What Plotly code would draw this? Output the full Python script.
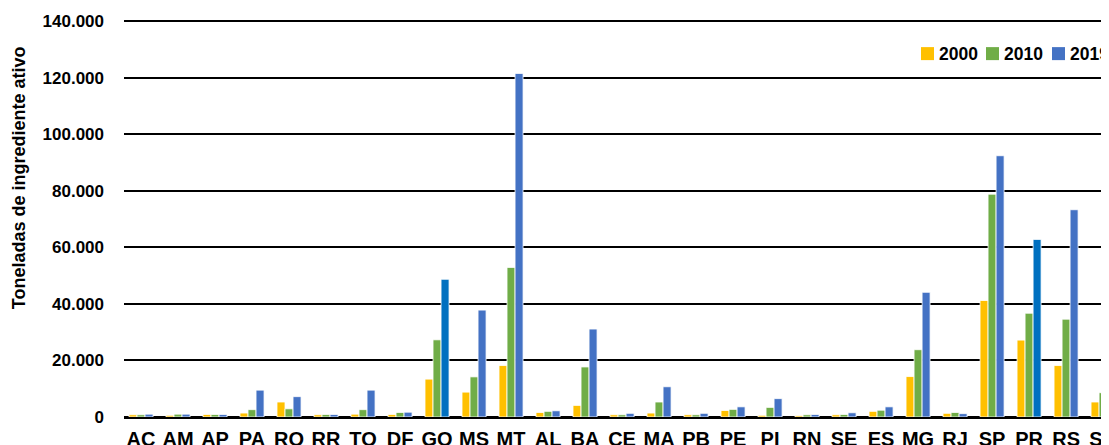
import plotly.graph_objects as go

states = ["AC", "AM", "AP", "PA", "RO", "RR", "TO", "DF", "GO", "MS", "MT", "AL", "BA", "CE",
          "MA", "PB", "PE", "PI", "RN", "SE", "ES", "MG", "RJ", "SP", "PR", "RS", "SC"]

v2000 = [800, 600, 900, 1400, 5300, 800, 1000, 900, 13400, 8800, 18200, 1600, 4100, 800,
         1400, 800, 2300, 600, 500, 800, 2000, 14300, 1300, 41200, 27200, 18200, 5300]
v2010 = [800, 1000, 900, 2600, 2900, 900, 2600, 1600, 27300, 14200, 52900, 2000, 17700, 800,
         5300, 800, 2700, 3400, 800, 900, 2400, 23800, 1600, 78800, 36700, 34600, 8600]
v2019 = [1000, 1000, 900, 9500, 7200, 900, 9500, 1700, 48700, 37800, 121500, 2200, 31100, 1300,
         10700, 1300, 3600, 6500, 900, 1500, 3600, 44100, 1200, 92400, 62800, 73300, 12500]

years = ["2000", "2010", "2019"]
col2000 = "#FFC000"
col2010 = "#70AD47"
col2019 = ["#0070C0" if s in ("GO", "PR") else "#4472C4" for s in states]
legend_cols = [col2000, col2010, "#4472C4"]

y_ticks = [0, 20000, 40000, 60000, 80000, 100000, 120000, 140000]
y_title = "Toneladas de ingrediente ativo"

FONT = "Arial, Liberation Sans, sans-serif"

# page is offset by the 8px default body margin
W, H = 1101, 437
ML, MR, MT_, MB = 116, 0, 11.9, 28.3
PLOT_W = W - ML - MR
PLOT_H = H - MT_ - MB

fig = go.Figure()
for name, vals, col in [(years[0], v2000, col2000), (years[1], v2010, col2010), (years[2], v2019, col2019)]:
    fig.add_trace(go.Bar(
        x=states, y=vals, name=name, showlegend=False,
        marker=dict(color=col, line=dict(color="white", width=0.8)),
    ))

def px_x(p):  # page x -> paper fraction
    return (p - 8 - ML) / PLOT_W

def px_y(p):  # page y -> paper fraction
    return (H - MB - (p - 8)) / PLOT_H

# Manual legend (swatch + label)
sw_left = [921, 986, 1052]
for i, (yr, c) in enumerate(zip(years, legend_cols)):
    x0 = sw_left[i]
    fig.add_shape(type="rect", xref="paper", yref="paper",
                  x0=px_x(x0), x1=px_x(x0 + 13), y0=px_y(60), y1=px_y(47),
                  fillcolor=c, line=dict(width=0))
    fig.add_annotation(xref="paper", yref="paper", x=px_x(x0 + 16), y=px_y(53.5),
                       xanchor="left", yanchor="middle", showarrow=False,
                       text="<b>%s</b>" % yr,
                       font=dict(family=FONT, size=17.5, color="black"))

# y-axis title (placed above the plot centre, as in the original)
fig.add_annotation(xref="paper", yref="paper", x=px_x(19), y=px_y(178),
                   xanchor="center", yanchor="middle", showarrow=False, textangle=-90,
                   text="<b>%s</b>" % y_title,
                   font=dict(family=FONT, size=18, color="black"))

fig.update_layout(
    width=W, height=H,
    margin=dict(l=ML, r=MR, t=MT_, b=MB, autoexpand=False),
    paper_bgcolor="white", plot_bgcolor="white",
    barmode="group", bargap=0.35, bargroupgap=0.0,
    separators=",.",
    font=dict(family=FONT, color="black"),
    showlegend=False,
)

fig.update_xaxes(
    type="category", range=[-0.46, 26.16],
    showgrid=False, showline=False, ticks="",
    tickfont=dict(family=FONT, size=20, color="black", weight="bold"),
    ticklabelstandoff=8, automargin=False,
)
fig.update_yaxes(
    range=[0, 140400], tickvals=y_ticks, tickformat=",.0f",
    showgrid=True, gridcolor="black", gridwidth=1.5,
    zeroline=True, zerolinecolor="black", zerolinewidth=2.5,
    showline=False, ticks="",
    tickfont=dict(family=FONT, size=17, color="black", weight="bold"),
    ticklabelstandoff=19, automargin=False,
)

fig.write_html("out.html")
